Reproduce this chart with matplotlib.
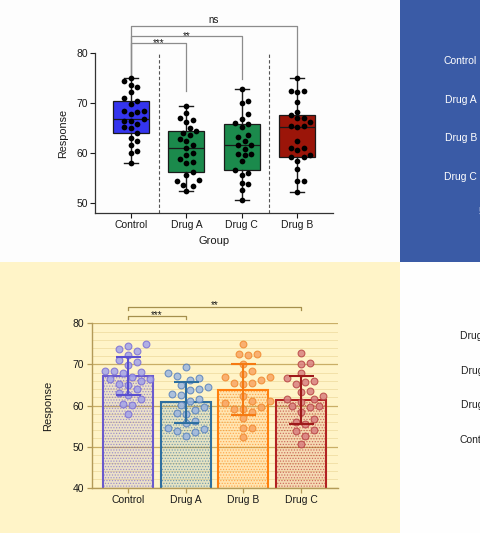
import numpy as np
import matplotlib
matplotlib.use("Agg")
import matplotlib.pyplot as plt
from matplotlib.patches import Rectangle
from matplotlib.ticker import MultipleLocator

plt.rcParams["font.family"] = ["Liberation Sans", "DejaVu Sans"]
plt.rcParams["hatch.linewidth"] = 0.6

# ---- data ----
groups = ["Control", "Drug A", "Drug B", "Drug C"]
control = [75.0, 74.5, 73.7, 73.3, 72.3, 71.0, 70.5, 69.9, 68.5, 68.4, 68.2, 67.8,
           66.9, 66.5, 66.4, 65.9, 65.2, 65.0, 64.0, 63.0, 62.5, 61.6, 60.4, 60.1, 58.0]
drug_a = [69.4, 68.0, 67.1, 66.6, 66.3, 65.0, 64.5, 64.1, 63.7, 62.8, 62.5, 61.7,
          61.1, 60.1, 59.7, 58.9, 58.2, 58.0, 56.3, 55.7, 54.6, 54.4, 53.7, 53.5, 52.5]
drug_b = [75.0, 72.5, 72.5, 72.3, 70.2, 68.3, 67.6, 67.0, 67.0, 66.3, 65.5, 65.4,
          65.2, 62.4, 61.0, 61.0, 60.6, 59.7, 59.2, 59.2, 58.5, 56.9, 54.5, 54.5, 52.3]
drug_c = [72.8, 70.4, 70.1, 67.8, 66.8, 66.0, 65.8, 65.2, 63.6, 63.3, 62.4, 61.7,
          61.7, 60.9, 59.8, 59.8, 59.6, 58.4, 56.6, 56.0, 55.6, 54.1, 53.8, 52.7, 50.6]
data = dict(zip(groups, [control, drug_a, drug_b, drug_c]))

box_order = ["Control", "Drug A", "Drug C", "Drug B"]
box_sig = [("***", 1), ("**", 2), ("ns", 3)]
bar_sig = [("***", 1), ("**", 3)]
right_top_labels = ["Control", "Drug A", "Drug B", "Drug C"]
right_bottom_labels = ["Drug C", "Drug B", "Drug A", "Control"]

W, H = 480, 533


def px_axes(fig, left, top, right, bottom):
    return fig.add_axes([left / W, 1 - bottom / H, (right - left) / W, (bottom - top) / H])


def swarm_x(ax, x0, vals, diam):
    # small beeswarm in screen pixels so the dots do not overlap
    tr = ax.transData
    vals = np.asarray(vals, float)
    xy = tr.transform(np.column_stack([np.full(len(vals), x0), vals]))
    cx, ys = xy[0, 0], xy[:, 1]
    placed, offs = [], np.zeros(len(vals))
    step = diam / 2
    for i in np.argsort(vals):
        k, found = 0, None
        while found is None:
            for c in ([0.0] if k == 0 else [k * step, -k * step]):
                if all((c - px) ** 2 + (ys[i] - py) ** 2 >= diam ** 2 for px, py in placed):
                    found = c
                    break
            k += 1
        placed.append((found, ys[i]))
        offs[i] = found
    return tr.inverted().transform(np.column_stack([cx + offs, ys]))[:, 0]


fig = plt.figure(figsize=(4.8, 5.33), dpi=100)
for (x0, y0, x1, y1), c in [((0, 0, 400, 262), "#fdfdfd"), ((400, 0, 480, 262), "#3a5ba6"),
                            ((0, 262, 400, 533), "#fff4c8"), ((400, 262, 480, 533), "#fefefe")]:
    fig.add_artist(Rectangle((x0 / W, 1 - y1 / H), (x1 - x0) / W, (y1 - y0) / H,
                             transform=fig.transFigure, color=c, zorder=-10, lw=0))

# ---- top-left: box plot ----
ax1 = px_axes(fig, 95, 53.3, 333, 213)
ax1.set_xlim(-0.65, 3.65)
ax1.set_ylim(48.1, 80)
ax1.patch.set_alpha(0)
dark = "#1a1a1a"
bp = ax1.boxplot([data[g] for g in box_order], positions=range(4), widths=0.65,
                 whis=(0, 100), patch_artist=True, showfliers=False, capwidths=0.25,
                 medianprops=dict(color=dark, lw=0.9),
                 boxprops=dict(edgecolor=dark, lw=0.9),
                 whiskerprops=dict(color=dark, lw=1.0),
                 capprops=dict(color=dark, lw=1.0))
for patch, c in zip(bp["boxes"], ["#3535ee", "#1b8a4c", "#1b8a4c", "#9b1509"]):
    patch.set_facecolor(c)
for i, g in enumerate(box_order):
    ax1.scatter(swarm_x(ax1, i, data[g], 6.5), data[g], s=17, color="black",
                linewidths=0, zorder=3)
ax1.vlines([0.5, 2.5], 48.1, 80, colors="#555555", lw=0.8, linestyles=(0, (3, 2)))

arm_top = {1: 72.4, 2: 74.8, 3: 75.2}
levels = {1: 82.0, 2: 83.4, 3: 85.4}
text_y = {1: 81.4, 2: 82.9, 3: 86.0}
for lab, j in box_sig:
    ax1.plot([0, 0, j, j], [75.2, levels[j], levels[j], arm_top[j]], color="#8c8c8c",
             lw=0.9, clip_on=False)
    ax1.text(j / 2, text_y[j], lab, ha="center", va="baseline", fontsize=7, color=dark)

ax1.set_xticks(range(4))
ax1.set_xticklabels(box_order)
ax1.set_yticks([50, 60, 70, 80])
ax1.tick_params(direction="out", length=3.3, width=0.8, colors=dark, labelsize=7.5, pad=2)
for s in ["top", "right"]:
    ax1.spines[s].set_visible(False)
for s in ["left", "bottom"]:
    ax1.spines[s].set_color("#333333")
    ax1.spines[s].set_linewidth(0.9)
ax1.set_xlabel("Group", fontsize=8, labelpad=4, color=dark)
ax1.set_ylabel("Response", fontsize=7.8, labelpad=6, color=dark)

# ---- bottom-left: bar chart with points ----
ax2 = px_axes(fig, 92, 323.3, 338, 487.7)
ax2.set_xlim(-0.624, 3.642)
ax2.set_ylim(40, 80)
ax2.patch.set_alpha(0)
olive = "#b39a58"
edge_cols = ["#6a5acd", "#2f6f9f", "#ff7f0e", "#b22222"]
err_cols = ["#5a4fcf", "#2e6fa0", "#f57a12", "#9e1a1a"]
pt_face = ["#a3a3ea", "#9db7e0", "#f8a462", "#d98080"]
pt_edge = ["#7b6fd6", "#5a83bd", "#f08a30", "#b84545"]
xpos = np.arange(len(groups))
means = [np.mean(data[g]) for g in groups]
sds = [np.std(data[g], ddof=1) for g in groups]

ax2.set_axisbelow(True)
ax2.yaxis.set_minor_locator(MultipleLocator(2))
ax2.grid(axis="y", which="minor", color="#f0dea4", lw=0.6)
ax2.grid(axis="y", which="major", color="#c9ae66", lw=0.9)

for i, g in enumerate(groups):
    hatch_col = matplotlib.colors.to_rgba(edge_cols[i], 0.55)
    ax2.bar(xpos[i], means[i], width=0.867,
            color=matplotlib.colors.to_rgba(edge_cols[i], 0.12), edgecolor=hatch_col,
            hatch="......", lw=0, zorder=2)
    ax2.bar(xpos[i], means[i], width=0.867, fill=False, edgecolor=edge_cols[i], lw=1.5,
            zorder=2.5)
    ax2.scatter(swarm_x(ax2, i, data[g], 9.0), data[g], s=24, color=pt_face[i],
                edgecolors=pt_edge[i], linewidths=0.8, alpha=0.85, zorder=3)
    ax2.errorbar(xpos[i], means[i], yerr=sds[i], color=err_cols[i], lw=1.5,
                 capsize=9, capthick=1.5, zorder=4)

bar_level = {1: 81.8, 3: 84.0}
bar_text = {1: 81.35, 3: 83.6}
for lab, j in bar_sig:
    h = bar_level[j]
    ax2.plot([0, 0, j, j], [h - 0.75, h, h, h - 0.75], color="#a58f4c", lw=0.9,
             clip_on=False)
    ax2.text(j / 2, bar_text[j], lab, ha="center", va="baseline", fontsize=7, color=dark)

ax2.set_xticks(xpos)
ax2.set_xticklabels(groups)
ax2.set_yticks([40, 50, 60, 70, 80])
ax2.tick_params(which="major", direction="out", length=3.5, width=0.9, color=olive,
                labelcolor=dark, labelsize=7.5, pad=2)
ax2.tick_params(which="minor", length=0)
for s in ["top", "right"]:
    ax2.spines[s].set_visible(False)
for s in ["left", "bottom"]:
    ax2.spines[s].set_color(olive)
    ax2.spines[s].set_linewidth(1.0)
ax2.set_ylabel("Response", fontsize=8, labelpad=14, color=dark)

# ---- top-right: neighbouring panel, only its labels show ----
ax3 = px_axes(fig, 484, 40, 640, 198)
ax3.set_ylim(3.569, -0.517)
ax3.set_xlim(50, 100)
ax3.set_yticks(range(4))
ax3.set_yticklabels(right_top_labels)
ax3.set_xticks([50])
ax3.tick_params(length=0, colors="white", labelsize=7.5)
ax3.tick_params(axis="y", pad=5)
ax3.tick_params(axis="x", pad=6.5)
ax3.patch.set_alpha(0)
for s in ax3.spines.values():
    s.set_visible(False)

# ---- bottom-right: neighbouring panel ----
ax4 = px_axes(fig, 498, 318, 640, 456)
ax4.set_ylim(3.49, -0.49)
ax4.set_yticks(range(4))
ax4.set_yticklabels(right_bottom_labels)
ax4.set_xticks([])
ax4.tick_params(length=0, colors="#222222", labelsize=7.5, pad=3.6)
ax4.patch.set_alpha(0)
for s in ax4.spines.values():
    s.set_visible(False)

fig.savefig("out.png", dpi=100)
plt.close(fig)
